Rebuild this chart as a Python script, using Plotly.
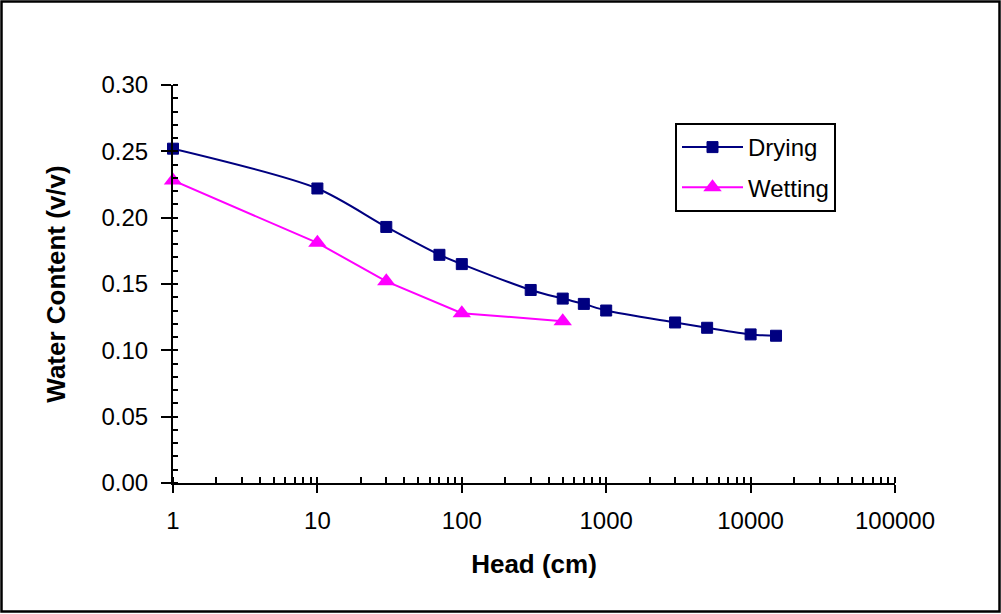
import plotly.graph_objects as go

# ---- data ----
drying_head = [1, 10, 30, 70, 100, 300, 500, 700, 1000, 3000, 5000, 10000, 15000]
drying_wc = [0.252, 0.222, 0.193, 0.172, 0.165, 0.1455, 0.139, 0.135, 0.130, 0.121, 0.117, 0.112, 0.111]
wetting_head = [1, 10, 30, 100, 500]
wetting_wc = [0.228, 0.181, 0.152, 0.128, 0.122]
x_tickvals = [1, 10, 100, 1000, 10000, 100000]
x_ticktext = ["1", "10", "100", "1000", "10000", "100000"]

W, H = 1001, 614
ML, MR, MT, MB = 173, 106, 85, 131
PW, PH = W - ML - MR, H - MT - MB

FONT = "Arial, 'Liberation Sans', sans-serif"
NAVY = "#000080"
MAG = "#FF00FF"

fig = go.Figure()
fig.add_trace(go.Scatter(
    x=drying_head, y=drying_wc, name="Drying", mode="lines+markers",
    line=dict(color=NAVY, width=2, shape="spline", smoothing=0.8),
    marker=dict(symbol="square", size=11, color=NAVY, line=dict(color=NAVY, width=1)),
    legendgroup="d", cliponaxis=False,
))
fig.add_trace(go.Scatter(
    x=wetting_head, y=wetting_wc, name="Wetting", mode="lines+markers",
    line=dict(color=MAG, width=2),
    marker=dict(symbol="triangle-up", size=16, color=MAG),
    legendgroup="w", cliponaxis=False,
))

def px_to_paper(px, py):
    return (px - ML) / PW, (H - MB - py) / PH

x0, y0 = px_to_paper(1.5, 1.5)
x1, y1 = px_to_paper(999.5, 611.5)

fig.update_layout(
    width=W, height=H,
    margin=dict(l=ML, r=MR, t=MT, b=MB, pad=0),
    paper_bgcolor="white", plot_bgcolor="white",
    font=dict(family=FONT, color="black", size=24),
    showlegend=True,
    legend=dict(
        x=px_to_paper(675, 0)[0], y=px_to_paper(0, 123)[1], xanchor="left", yanchor="top",
        bgcolor="white", bordercolor="black", borderwidth=2,
        font=dict(family=FONT, size=24, color="black"),
        traceorder="grouped", tracegroupgap=6, itemwidth=61,
    ),
    shapes=[dict(type="rect", xref="paper", yref="paper", x0=x0, y0=y0, x1=x1, y1=y1,
                 line=dict(color="black", width=2.5), fillcolor="rgba(0,0,0,0)", layer="below")],
)

fig.update_xaxes(
    type="log", range=[0, 5], showgrid=False, zeroline=False,
    showline=True, linecolor="black", linewidth=2,
    tickvals=x_tickvals, ticktext=x_ticktext,
    ticks="outside", ticklen=8, tickwidth=2, tickcolor="black",
    ticklabelstandoff=7,
    tickfont=dict(family=FONT, size=24, color="black"),
    minor=dict(ticks="inside", ticklen=6, tickwidth=1.5, tickcolor="black", dtick="D1", showgrid=False),
    title=dict(text="<b>Head (cm)</b>", font=dict(family=FONT, size=26, color="black"), standoff=22),
)
fig.update_yaxes(
    range=[0, 0.3], showgrid=False, zeroline=False,
    showline=True, linecolor="black", linewidth=2,
    dtick=0.05, tick0=0, tickformat=".2f",
    ticks="outside", ticklen=10, tickwidth=2, tickcolor="black",
    ticklabelstandoff=8,
    tickfont=dict(family=FONT, size=24, color="black"),
    minor=dict(ticks="inside", ticklen=5, tickwidth=1.5, tickcolor="black", dtick=0.01, showgrid=False),
    title=dict(text="<b>Water Content (v/v)</b>", font=dict(family=FONT, size=26, color="black"), standoff=28),
)

fig.write_html("out.html")
